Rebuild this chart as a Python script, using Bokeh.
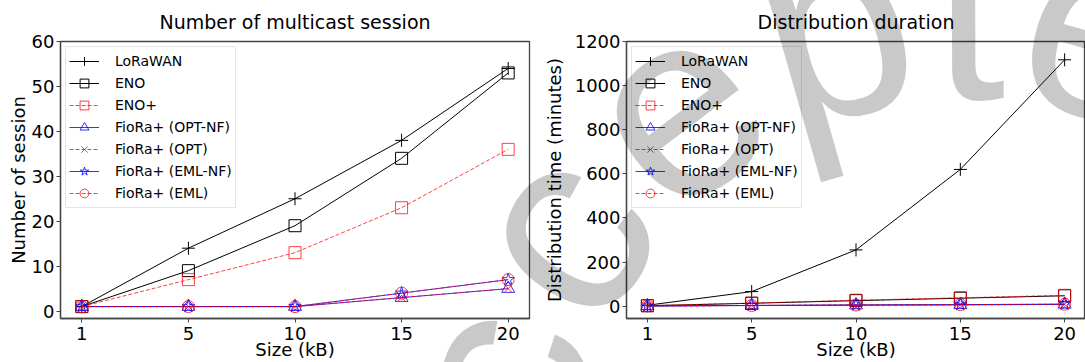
import math

from bokeh.plotting import figure
from bokeh.layouts import row
from bokeh.models import Range1d, FixedTicker, Legend, LegendItem, Div
from bokeh.embed import file_html
from bokeh.resources import INLINE

# ---------------------------------------------------------------- data
sizes = ["1", "5", "10", "15", "20"]          # payload size (kB)

series_names = [
    "LoRaWAN", "ENO", "ENO+",
    "FioRa+ (OPT-NF)", "FioRa+ (OPT)", "FioRa+ (EML-NF)", "FioRa+ (EML)",
]

# number of multicast sessions
sess_lorawan = [1, 14, 25, 38, 54]
sess_eno = [1, 9, 19, 34, 53]
sess_eno_plus = [1, 7, 13, 23, 36]
sess_opt_nf = [1, 1, 1, 3, 5]
sess_opt = [1, 1, 1, 3, 5]
sess_eml_nf = [1, 1, 1, 4, 7]
sess_eml = [1, 1, 1, 4, 7]

# distribution time (minutes)
time_lorawan = [4, 66, 255, 620, 1117]
time_eno = [2, 13, 25, 36, 47]
time_eno_plus = [2, 14, 27, 38, 49]
time_opt_nf = [1, 3, 5, 6, 8]
time_opt = [1, 3, 5, 6, 8]
time_eml_nf = [1, 3, 5, 7, 9]
time_eml = [1, 3, 5, 7, 9]

session_ticks = [0, 10, 20, 30, 40, 50, 60]
time_ticks = [0, 200, 400, 600, 800, 1000, 1200]

# ---------------------------------------------------------------- styles
FONT = "DejaVu Sans"
SPINE = "#444444"
STYLES = [
    # color, alpha, dash, marker, marker size
    ("black", 1.0, "solid", "cross", 13),
    ("black", 1.0, "solid", "square", 12),
    ("red", 0.75, "4 2", "square", 12),
    ("blue", 0.8, "solid", "triangle", 13),
    ("red", 0.75, "4 2", "x", 11),
    ("blue", 0.8, "solid", "star", 13),
    ("red", 0.75, "4 2", "circle", 12),
]

x_pos = list(range(len(sizes)))
X_RANGE = (-0.2, len(sizes) - 1 + 0.2)

# page geometry (pixels)
PAGE_W, FIG_H = 1085, 362
FRAME_TOP, FRAME_BOTTOM = 41, 318

# "Accepted" stamp, set along an arc across both panels
STAMP_TEXT = "Accepted"
STAMP_ADVANCE = [0.667, 0.5, 0.5, 0.556, 0.556, 0.278, 0.556, 0.556]  # em
STAMP_CENTER = (970, 500)   # page px, centre of the arc
STAMP_RADIUS = 401          # px, baseline radius
STAMP_SIZE = 265            # px
STAMP_ANCHOR = 3            # letter index placed at STAMP_ANCHOR_PHI
STAMP_ANCHOR_PHI = 127      # deg, polar angle of that letter
STAMP_ASCENT = 0.8465       # baseline depth inside a 1em line box


def make_panel(title, ylabel, values, y_range, yticks, width, left, right,
               ylabel_standoff):
    p = figure(
        width=width, height=FIG_H,
        x_range=Range1d(*X_RANGE), y_range=Range1d(*y_range),
        output_backend="svg", toolbar_location=None,
        min_border_left=left, min_border_right=right,
        min_border_top=FRAME_TOP, min_border_bottom=FIG_H - FRAME_BOTTOM,
    )
    p.title.text = title
    p.title.align = "center"
    p.title.text_font = FONT
    p.title.text_font_size = "19px"
    p.title.text_font_style = "normal"
    p.title.text_color = "black"
    p.title.standoff = 17

    p.xgrid.visible = False
    p.ygrid.visible = False
    p.outline_line_color = SPINE
    p.outline_line_width = 1.3

    p.xaxis.ticker = FixedTicker(ticks=x_pos)
    p.xaxis.major_label_overrides = {i: s for i, s in zip(x_pos, sizes)}
    p.xaxis.axis_label = "Size (kB)"
    p.yaxis.ticker = FixedTicker(ticks=yticks)
    p.yaxis.axis_label = ylabel
    for ax in (p.xaxis[0], p.yaxis[0]):
        ax.major_label_text_font = FONT
        ax.major_label_text_font_size = "18px"
        ax.major_label_text_color = "black"
        ax.axis_label_text_font = FONT
        ax.axis_label_text_font_size = "18px"
        ax.axis_label_text_font_style = "normal"
        ax.axis_label_text_color = "black"
        ax.minor_tick_line_color = None
        ax.major_tick_in = 0
        ax.major_tick_out = 4
        ax.major_tick_line_color = SPINE
        ax.axis_line_color = SPINE
        ax.axis_line_width = 1.3
    p.xaxis.major_label_standoff = 4
    p.xaxis.axis_label_standoff = -4
    p.yaxis.major_label_standoff = 2
    p.yaxis.axis_label_standoff = ylabel_standoff

    items = []
    for name, ys, (color, alpha, dash, marker, msize) in zip(series_names, values, STYLES):
        ln = p.line(x_pos, ys, line_color=color, line_alpha=alpha,
                    line_dash=dash, line_width=1)
        sc = p.scatter(x_pos, ys, marker=marker, size=msize,
                       line_color=color, line_alpha=alpha, line_width=1,
                       fill_color=None)
        items.append(LegendItem(label=name, renderers=[ln, sc]))

    legend = Legend(
        items=items, location="top_left",
        label_text_font=FONT, label_text_font_size="14px", label_text_color="black",
        glyph_width=30, glyph_height=22, label_height=22,
        spacing=0, padding=3, margin=5, label_standoff=16,
        border_line_color="#cccccc", border_line_width=1,
        background_fill_color="white", background_fill_alpha=0.8,
    )
    p.add_layout(legend)
    return p


left = make_panel(
    "Number of multicast session", "Number of session",
    [sess_lorawan, sess_eno, sess_eno_plus, sess_opt_nf, sess_opt, sess_eml_nf, sess_eml],
    (-1.65, 60), session_ticks, width=540, left=60, right=11, ylabel_standoff=0,
)
right = make_panel(
    "Distribution duration", "Distribution time (minutes)",
    [time_lorawan, time_eno, time_eno_plus, time_opt_nf, time_opt, time_eml_nf, time_eml],
    (-56, 1200), time_ticks, width=545, left=76, right=0, ylabel_standoff=7,
)


# ---------------------------------------------------------------- stamp
def stamp_markup():
    mids, acc = [], 0.0
    for adv in STAMP_ADVANCE:
        mids.append(acc + adv / 2)
        acc += adv
    deg_per_em = math.degrees(STAMP_SIZE / STAMP_RADIUS)
    base = STAMP_SIZE * STAMP_ASCENT
    spans = []
    for ch, adv, mid in zip(STAMP_TEXT, STAMP_ADVANCE, mids):
        phi = STAMP_ANCHOR_PHI - (mid - mids[STAMP_ANCHOR]) * deg_per_em
        bx = STAMP_CENTER[0] + STAMP_RADIUS * math.cos(math.radians(phi))
        by = STAMP_CENTER[1] - STAMP_RADIUS * math.sin(math.radians(phi))
        w = adv * STAMP_SIZE
        spans.append(
            f'<span style="position:absolute; left:{bx - w / 2:.1f}px; '
            f'top:{by - base:.1f}px; width:{w:.1f}px; height:{STAMP_SIZE}px; '
            f"text-align:center; margin:0; padding:0; white-space:nowrap; "
            f"font-family:'Liberation Sans', Arial, sans-serif; "
            f"font-size:{STAMP_SIZE}px; line-height:{STAMP_SIZE}px; "
            f"color:rgba(0,0,0,0.21); "
            f"transform-origin:{w / 2:.1f}px {base:.1f}px; "
            f'transform:rotate({90 - phi:.2f}deg);">{ch}</span>'
        )
    return "".join(spans)


stamp = Div(
    text=stamp_markup(),
    styles={
        "position": "absolute", "left": "0px", "top": "0px",
        "width": f"{PAGE_W}px", "height": f"{FIG_H}px",
        "overflow": "hidden", "pointer-events": "none", "z-index": "10",
        "margin": "0px", "padding": "0px",
    },
)

layout = row(left, right, stamp)
open("out.html", "w").write(file_html(layout, INLINE))
